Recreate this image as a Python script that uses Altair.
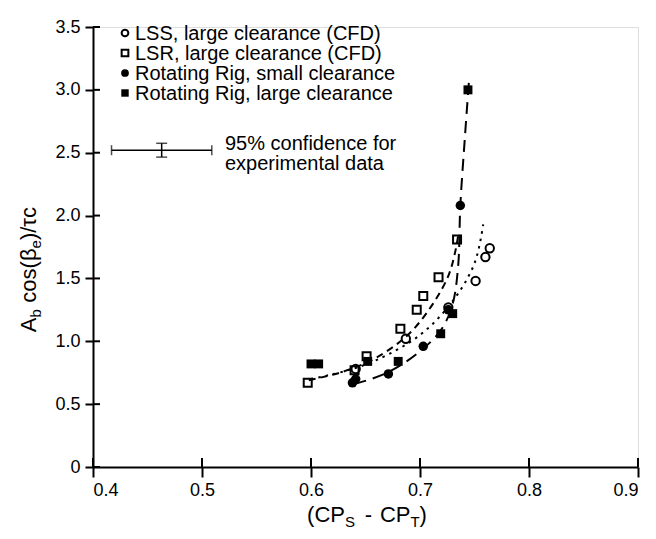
import altair as alt
import pandas as pd

# ---------------- data ----------------
lss_x = [0.641, 0.687, 0.726, 0.751, 0.760, 0.764]
lss_y = [0.78, 1.02, 1.27, 1.48, 1.67, 1.74]

lsr_x = [0.597, 0.640, 0.651, 0.682, 0.697, 0.703, 0.717, 0.734]
lsr_y = [0.67, 0.77, 0.88, 1.10, 1.25, 1.36, 1.51, 1.81]

rrs_x = [0.638, 0.641, 0.671, 0.703, 0.726, 0.737]
rrs_y = [0.67, 0.70, 0.74, 0.96, 1.25, 2.08]

rrl_x = [0.600, 0.607, 0.652, 0.680, 0.719, 0.730, 0.744]
rrl_y = [0.82, 0.82, 0.84, 0.84, 1.06, 1.22, 3.00]

# fitted curves
fit_rr_x = [0.640, 0.670, 0.700, 0.720, 0.730, 0.735, 0.737, 0.741, 0.745]
fit_rr_y = [0.66, 0.75, 0.92, 1.10, 1.30, 1.60, 2.08, 2.60, 3.08]
fit_lss_x = [0.600, 0.630, 0.660, 0.700, 0.730, 0.750, 0.758]
fit_lss_y = [0.70, 0.76, 0.85, 1.05, 1.32, 1.62, 1.93]
fit_lsr_x = [0.598, 0.630, 0.660, 0.690, 0.712, 0.726, 0.732, 0.735]
fit_lsr_y = [0.69, 0.76, 0.87, 1.06, 1.30, 1.52, 1.70, 1.84]

# 95% confidence bar for experimental data
ci_x = [0.463]
ci_y = [2.52]
ci_dx = [0.046]
ci_dy = [0.055]

x_ticks = [0.4, 0.5, 0.6, 0.7, 0.8, 0.9]
y_ticks = [0.0, 0.5, 1.0, 1.5, 2.0, 2.5, 3.0, 3.5]

legend_labels = [
    "LSS, large clearance (CFD)",
    "LSR, large clearance (CFD)",
    "Rotating Rig, small clearance",
    "Rotating Rig, large clearance",
]
ci_text = ["95% confidence for", "experimental data"]

# ---------------- layout ----------------
W, H = 545, 440
FONT = "Liberation Sans"
TICK_FS = 18
LEG_FS = 20
TITLE_FS = 22
SUB_FS = 15

xs = alt.Scale(domain=[0.4, 0.9], nice=False, zero=False)
ys = alt.Scale(domain=[0, 3.5], nice=False, zero=False)

X_AX = alt.Axis(
    values=x_ticks, format=".1f", title=None, grid=False,
    labelFont=FONT, labelFontSize=TICK_FS, labelColor="black",
    domainColor="black", domainWidth=2, tickColor="black", tickWidth=2,
    tickSize=10, labelPadding=4)
Y_AX = alt.Axis(
    values=y_ticks, title=None, grid=False,
    labelExpr="datum.value == 0 ? '0' : format(datum.value, '.1f')",
    labelFont=FONT, labelFontSize=TICK_FS, labelColor="black",
    domainColor="black", domainWidth=2, tickColor="black", tickWidth=2,
    tickSize=8, labelPadding=5)


def X(f):
    return alt.X(f, scale=xs, axis=X_AX)


def Y(f):
    return alt.Y(f, scale=ys, axis=Y_AX)


AW = {"(": .333, ")": .333, "C": .722, "P": .667, "S": .667, "T": .611, " ": .278,
      "-": .333, "A": .667, "b": .556, "c": .5, "o": .556, "s": .5, "β": .575,
      "e": .556, "/": .278, "τ": .45}


def tw(s, fs):
    return sum(AW.get(ch, .55) for ch in s) * fs


def pts(xv, yv, shape, filled, size):
    df = pd.DataFrame({"x": xv, "y": yv})
    return alt.Chart(df).mark_point(
        shape=shape, filled=filled, size=size, color="black",
        strokeWidth=2, opacity=1, fillOpacity=1
    ).encode(x=X("x:Q"), y=Y("y:Q"))


def fit(xv, yv, dash, width=2):
    df = pd.DataFrame({"x": xv, "y": yv, "o": list(range(len(xv)))})
    return alt.Chart(df).mark_line(
        color="black", strokeWidth=width, strokeDash=dash, interpolate="catmull-rom"
    ).encode(x=X("x:Q"), y=Y("y:Q"), order="o:Q")


# inner halves of the crossing ticks
xt_in = alt.Chart(pd.DataFrame({"x": x_ticks})).mark_rule(color="black", strokeWidth=2).encode(
    x=X("x:Q"), y=alt.value(H - 9), y2=alt.value(H))
yt_in = alt.Chart(pd.DataFrame({"y": y_ticks})).mark_rule(color="black", strokeWidth=2).encode(
    y=Y("y:Q"), x=alt.value(0), x2=alt.value(7))

# confidence bar
ci_df = pd.DataFrame({"x": ci_x, "y": ci_y, "dx": ci_dx, "dy": ci_dy})
ci_df["x0"] = ci_df.x - ci_df.dx
ci_df["x1"] = ci_df.x + ci_df.dx
ci_df["y0"] = ci_df.y - ci_df.dy
ci_df["y1"] = ci_df.y + ci_df.dy
ci_base = alt.Chart(ci_df)
ci_h = ci_base.mark_rule(color="black", strokeWidth=1.5).encode(
    x=X("x0:Q"), x2="x1:Q", y=Y("y:Q"))
ci_v = ci_base.mark_rule(color="black", strokeWidth=1.5).encode(
    x=X("x:Q"), y=Y("y0:Q"), y2="y1:Q")
ci_ends = alt.layer(
    ci_base.mark_tick(color="black", thickness=1.5, size=10, orient="vertical").encode(
        x=X("x0:Q"), y=Y("y:Q")),
    ci_base.mark_tick(color="black", thickness=1.5, size=10, orient="vertical").encode(
        x=X("x1:Q"), y=Y("y:Q")),
    ci_base.mark_tick(color="black", thickness=1.5, size=11, orient="horizontal").encode(
        x=X("x:Q"), y=Y("y0:Q")),
    ci_base.mark_tick(color="black", thickness=1.5, size=11, orient="horizontal").encode(
        x=X("x:Q"), y=Y("y1:Q")),
)

# legend (pixel layout relative to plot area)
leg_layers = []
leg_shapes = [("circle", False, 45), ("square", False, 45), ("circle", True, 60), ("square", True, 55)]
for i, (lab, (shp, fil, sz)) in enumerate(zip(legend_labels, leg_shapes)):
    yy = 6 + 20 * i
    leg_layers.append(alt.Chart(pd.DataFrame({"t": [lab]})).mark_point(
        shape=shp, filled=fil, size=sz, color="black", strokeWidth=2, opacity=1
    ).encode(x=alt.value(32), y=alt.value(yy)))
    leg_layers.append(alt.Chart(pd.DataFrame({"t": [lab]})).mark_text(
        font=FONT, fontSize=LEG_FS, align="left", baseline="middle", color="black"
    ).encode(text="t:N", x=alt.value(42), y=alt.value(yy + 1)))
for j, t in enumerate(ci_text):
    leg_layers.append(alt.Chart(pd.DataFrame({"t": [t]})).mark_text(
        font=FONT, fontSize=LEG_FS, align="left", baseline="middle", color="black"
    ).encode(text="t:N", x=alt.value(132), y=alt.value(117 + 20 * j)))


# titles with subscripts
def piece(text, x, y, fs, angle=0):
    kw = dict(font=FONT, fontSize=fs, align="left", baseline="alphabetic", color="black")
    if angle:
        kw["angle"] = angle
    return alt.Chart(pd.DataFrame({"t": [text]})).mark_text(**kw).encode(
        text="t:N", x=alt.value(x), y=alt.value(y))


title_layers = []
# (text, is_subscript, extra gap before)
xt_pieces = [("(CP", False, 0), ("S", True, 0), ("-", False, 0.45), ("CP", False, 0.35),
             ("T", True, 0), (")", False, 0)]
tot = sum(tw(s, SUB_FS if sub else TITLE_FS) + g * TITLE_FS for s, sub, g in xt_pieces)
cx = 274 - tot / 2
base_y = H + 55
for s, sub, g in xt_pieces:
    fs = SUB_FS if sub else TITLE_FS
    cx += g * TITLE_FS
    title_layers.append(piece(s, cx, base_y + (5 if sub else 0), fs))
    cx += tw(s, fs)

yt_pieces = [("A", False, 0), ("b", True, 0), ("cos(β", False, 0.3), ("e", True, 0),
             (")/τc", False, 0)]
tot = sum(tw(s, SUB_FS if sub else TITLE_FS) + g * TITLE_FS for s, sub, g in yt_pieces)
cy = 242 + tot / 2
base_x = -57
for s, sub, g in yt_pieces:
    fs = SUB_FS if sub else TITLE_FS
    cy -= g * TITLE_FS
    title_layers.append(piece(s, base_x + (5 if sub else 0), cy, fs, angle=270))
    cy -= tw(s, fs)

chart = alt.layer(
    xt_in, yt_in,
    fit(fit_rr_x, fit_rr_y, [12, 7]),
    fit(fit_lss_x, fit_lss_y, [2.5, 5]),
    fit(fit_lsr_x, fit_lsr_y, [7, 5]),
    pts(lss_x, lss_y, "circle", False, 70),
    pts(lsr_x, lsr_y, "square", False, 64),
    pts(rrs_x, rrs_y, "circle", True, 90),
    pts(rrl_x, rrl_y, "square", True, 80),
    ci_h, ci_v, ci_ends,
    *leg_layers, *title_layers,
).properties(
    width=W, height=H,
    autosize=alt.AutoSizeParams(type="none"),
    padding={"left": 85, "top": 19, "right": 10, "bottom": 64},
).configure_view(stroke=None).configure(background="white")

chart.save("out.html", embed_options={"renderer": "svg", "actions": False})
